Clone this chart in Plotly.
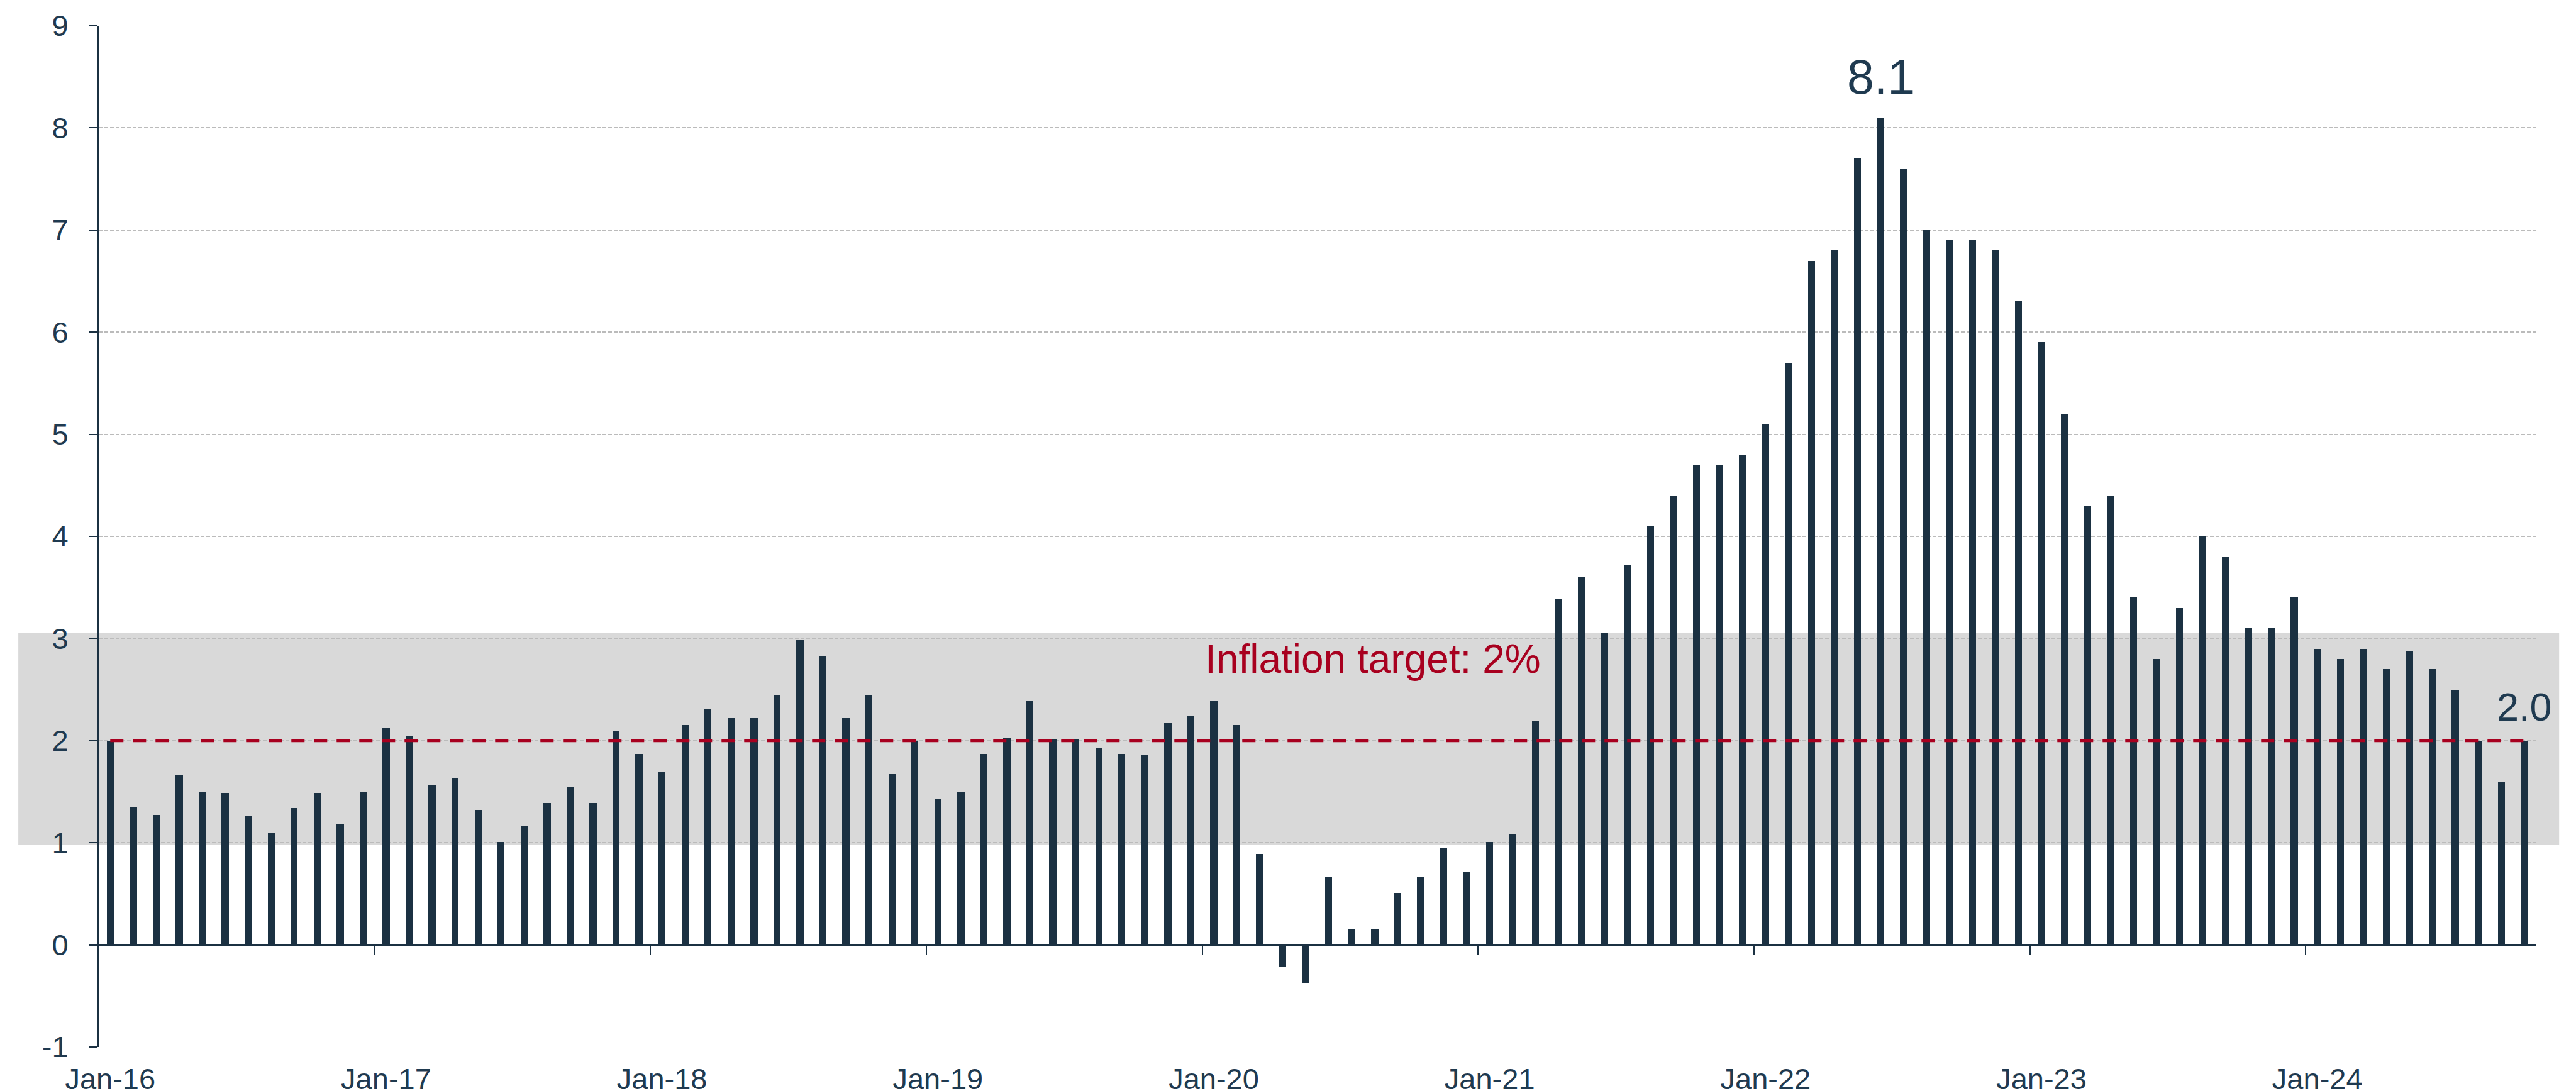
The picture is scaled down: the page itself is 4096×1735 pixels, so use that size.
import plotly.graph_objects as go

# ---------------- data ----------------
month_names = ["Jan", "Feb", "Mar", "Apr", "May", "Jun",
               "Jul", "Aug", "Sep", "Oct", "Nov", "Dec"]
years = ["16", "17", "18", "19", "20", "21", "22", "23", "24"]

cpi_2016 = [2.00, 1.35, 1.27, 1.66, 1.50, 1.49, 1.26, 1.10, 1.34, 1.49, 1.18, 1.50]
cpi_2017 = [2.13, 2.05, 1.56, 1.63, 1.32, 1.01, 1.16, 1.39, 1.55, 1.39, 2.10, 1.87]
cpi_2018 = [1.70, 2.15, 2.31, 2.22, 2.22, 2.44, 2.99, 2.83, 2.22, 2.44, 1.67, 2.00]
cpi_2019 = [1.43, 1.50, 1.87, 2.03, 2.39, 2.01, 2.01, 1.93, 1.87, 1.86, 2.17, 2.24]
cpi_2020 = [2.39, 2.15, 0.89, -0.22, -0.37, 0.66, 0.15, 0.15, 0.51, 0.66, 0.95, 0.72]
cpi_2021 = [1.01, 1.08, 2.19, 3.39, 3.60, 3.06, 3.72, 4.10, 4.40, 4.70, 4.70, 4.80]
cpi_2022 = [5.10, 5.70, 6.70, 6.80, 7.70, 8.10, 7.60, 7.00, 6.90, 6.90, 6.80, 6.30]
cpi_2023 = [5.90, 5.20, 4.30, 4.40, 3.40, 2.80, 3.30, 4.00, 3.80, 3.10, 3.10, 3.40]
cpi_2024 = [2.90, 2.80, 2.90, 2.70, 2.88, 2.70, 2.50, 2.00, 1.60, 2.00]

cpi = (cpi_2016 + cpi_2017 + cpi_2018 + cpi_2019 + cpi_2020
       + cpi_2021 + cpi_2022 + cpi_2023 + cpi_2024)
months = [f"{m}-{y}" for y in years for m in month_names][:len(cpi)]

target = 2.0
target_label = "Inflation target: 2%"
band_low, band_high = 0.98, 3.055          # shaded control range
y_tick_vals = [-1, 0, 1, 2, 3, 4, 5, 6, 7, 8, 9]
y_tick_text = ["-1", "0", "1", "2", "3", "4", "5", "6", "7", "8", "9"]
y_range = [-1, 9]

# ---------------- styling ----------------
NAVY = "#1B3142"
TEXT = "#1F3A50"
RED = "#A8001F"
BAND = "#D9D9D9"
GRID = "#BBBBBB"
FONT = "Liberation Sans, Arial, sans-serif"
TICK_SIZE = 47

x = list(range(len(cpi)))
jan_idx = [i for i, m in enumerate(months) if m.startswith("Jan")]
jan_labels = [months[i] for i in jan_idx]
boundaries = [i - 0.5 for i in jan_idx]
x_range = [-0.5, len(cpi) - 0.5]

fig = go.Figure()

fig.add_trace(go.Bar(
    x=x, y=cpi, width=0.31,
    marker=dict(color=NAVY, line=dict(width=0)),
    hovertext=months, hoverinfo="text+y",
    showlegend=False,
))

# target line, on overlaying axis so it draws above the bars
fig.add_trace(go.Scatter(
    x=x, y=[target] * len(x), mode="lines",
    line=dict(color=RED, width=5, dash="21px,15px"),
    xaxis="x2", hoverinfo="skip", showlegend=False,
))

zero_pos = (0 - y_range[0]) / (y_range[1] - y_range[0])

def to_paper(v):
    return (v - y_range[0]) / (y_range[1] - y_range[0])

fig.add_shape(type="rect", xref="paper", yref="paper",
              x0=-0.033, x1=1.0096,
              y0=to_paper(band_low), y1=to_paper(band_high),
              fillcolor=BAND, line=dict(width=0), layer="below")

peak_i = max(range(len(cpi)), key=lambda i: cpi[i])
last_i = len(cpi) - 1

annotations = [
    dict(x=peak_i, y=cpi[peak_i] + 0.40, text=f"{cpi[peak_i]:.1f}",
         font=dict(size=77, color=TEXT, family=FONT)),
    dict(x=last_i, y=cpi[last_i] + 0.33, text=f"{cpi[last_i]:.1f}",
         font=dict(size=63, color=TEXT, family=FONT)),
    dict(x=54.93, y=2.80, text=target_label,
         font=dict(size=64, color=RED, family=FONT)),
]
for a in annotations:
    a.update(xref="x", yref="y", showarrow=False,
             xanchor="center", yanchor="middle")

fig.update_layout(
    width=4096, height=1735,
    margin=dict(l=149, r=72, t=33, b=78, pad=0, autoexpand=False),
    paper_bgcolor="white",
    plot_bgcolor="rgba(0,0,0,0)",
    font=dict(family=FONT, color=TEXT, size=TICK_SIZE),
    bargap=0,
    annotations=annotations,
    xaxis=dict(
        range=x_range, tickmode="array", tickvals=jan_idx, ticktext=jan_labels,
        ticks="", showline=False, showgrid=False, zeroline=False,
        tickfont=dict(size=TICK_SIZE, color=TEXT, family=FONT),
        ticklabelstandoff=19, automargin=False,
    ),
    xaxis2=dict(
        overlaying="x", anchor="free", position=zero_pos, range=x_range,
        tickmode="array", tickvals=boundaries, ticks="outside",
        ticklen=14, tickwidth=2, tickcolor=NAVY,
        showline=True, linecolor=NAVY, linewidth=2,
        showticklabels=False, showgrid=False, zeroline=False,
        automargin=False,
    ),
    yaxis=dict(
        range=y_range, tickmode="array", tickvals=y_tick_vals, ticktext=y_tick_text,
        showgrid=True, gridcolor=GRID, gridwidth=2.3, griddash="6px,3px",
        zeroline=False, showline=True, linecolor=NAVY, linewidth=2,
        ticks="outside", ticklen=13, tickwidth=2, tickcolor=NAVY,
        tickfont=dict(size=TICK_SIZE, color=TEXT, family=FONT),
        ticklabelstandoff=24, automargin=False,
    ),
)

fig.write_html("out.html")
